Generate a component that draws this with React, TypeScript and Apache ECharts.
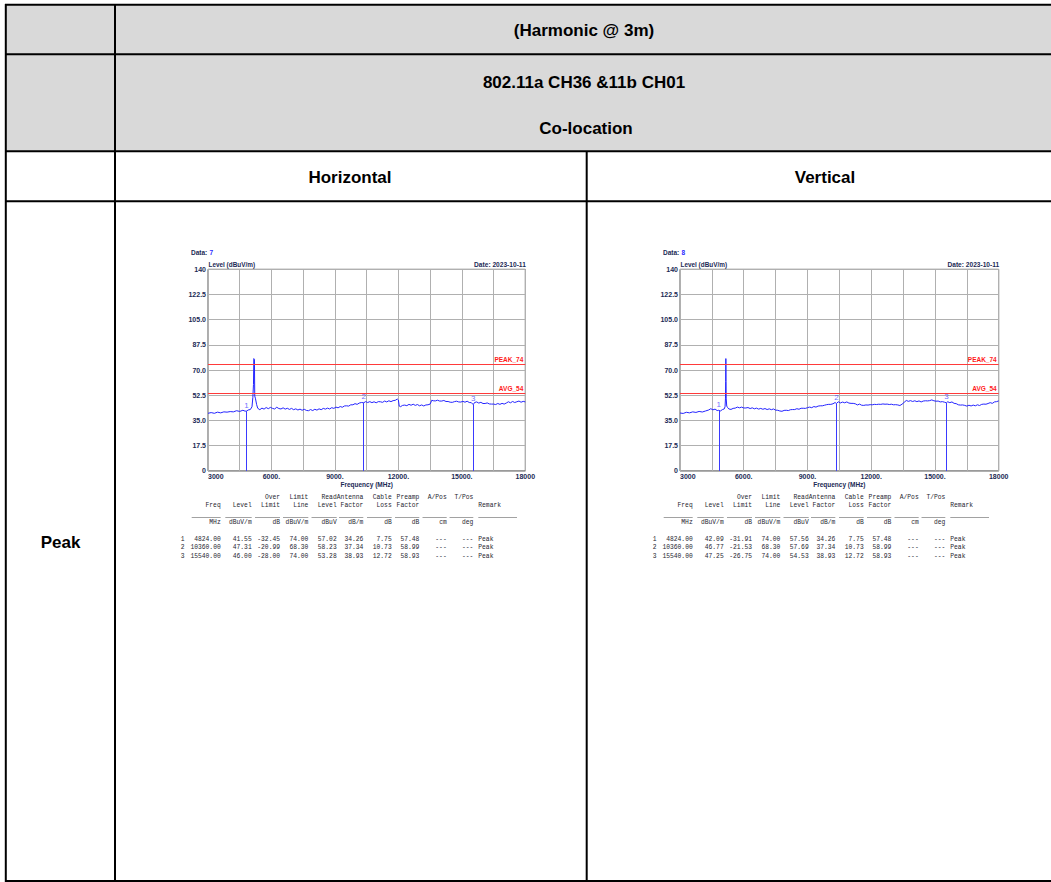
import React, { useEffect, useRef } from "react";
import * as echarts from "echarts";

// ---------- data ----------
const TITLE_ROWS = ["(Harmonic @ 3m)", "802.11a CH36 &11b CH01", "Co-location"];
const POLARIZATIONS = ["Horizontal", "Vertical"];
const ROW_LABEL = "Peak";
const DATA_IDS = ["7", "8"];
const DATE_TEXT = "Date: 2023-10-11";
const Y_AXIS_NAME = "Level (dBuV/m)";
const X_AXIS_NAME = "Frequency (MHz)";
const X_LABELS: Record<number, string> = {
  3000: "3000",
  6000: "6000.",
  9000: "9000.",
  12000: "12000.",
  15000: "15000.",
  18000: "18000",
};
const LIMIT_NAMES = ["PEAK_74", "AVG_54"];
const LIMIT_VALUES = [74, 54];
const MARKER_FREQ = [4824, 10360, 15540];
const H_MARKER_LEVEL = [41.55, 47.31, 46.0];
const V_MARKER_LEVEL = [42.09, 46.77, 47.25];

const H_TRACE: [number, number][] = [
  [3000, 40.0], [3150, 40.5], [3300, 40.0], [3450, 40.8], [3600, 40.3], [3750, 41.0], [3900, 40.8],
  [4050, 41.2], [4200, 41.0], [4350, 41.8], [4500, 41.3], [4650, 42.1], [4750, 41.5], [4824, 41.55],
  [4900, 42.3], [5000, 42.6], [5080, 44.5], [5120, 51.0], [5150, 60.0], [5165, 78.0], [5180, 78.3],
  [5195, 77.5], [5210, 52.0], [5240, 50.5], [5300, 46.0], [5350, 43.5], [5450, 42.5], [5550, 43.6],
  [5650, 42.9], [5750, 44.0], [5850, 43.2], [5950, 44.1], [6050, 43.4], [6150, 43.0], [6250, 44.2],
  [6350, 43.3], [6450, 43.0], [6550, 43.8], [6650, 42.9], [6750, 43.5], [6850, 42.7], [6950, 43.4],
  [7050, 42.5], [7150, 43.1], [7250, 42.3], [7350, 42.9], [7450, 42.1], [7550, 42.8], [7650, 42.0],
  [7750, 41.8], [7850, 42.6], [7950, 41.9], [8050, 42.8], [8150, 42.2], [8250, 43.1], [8350, 42.5],
  [8450, 43.4], [8550, 42.9], [8650, 43.6], [8750, 43.0], [8850, 43.9], [8950, 43.4], [9050, 44.3],
  [9150, 43.8], [9250, 44.7], [9350, 44.2], [9450, 45.1], [9550, 45.2], [9650, 45.0], [9750, 45.9],
  [9850, 45.9], [9950, 46.7], [10050, 46.2], [10150, 47.1], [10250, 47.5], [10360, 47.31], [10450, 48.1],
  [10550, 47.5], [10650, 48.1], [10750, 47.4], [10850, 48.0], [10950, 47.3], [11050, 48.1], [11150, 48.0],
  [11250, 47.6], [11350, 48.5], [11450, 47.9], [11550, 48.7], [11650, 48.1], [11750, 48.8], [11850, 49.0],
  [11950, 49.9], [12000, 49.2], [12040, 45.0], [12100, 44.6], [12200, 45.5], [12300, 45.7], [12400, 45.3],
  [12500, 46.2], [12600, 45.6], [12700, 46.3], [12800, 45.5], [12900, 46.1], [13000, 45.2], [13100, 45.8],
  [13200, 45.1], [13300, 45.8], [13400, 45.9], [13500, 46.4], [13580, 49.1], [13650, 48.7], [13750, 48.6],
  [13850, 49.1], [13950, 48.5], [14050, 48.5], [14150, 48.9], [14250, 48.2], [14350, 48.2], [14450, 47.7],
  [14550, 47.6], [14650, 48.1], [14750, 48.4], [14850, 47.9], [14950, 47.8], [15050, 48.3], [15150, 47.7],
  [15250, 48.4], [15350, 47.5], [15450, 47.4], [15540, 46.0], [15600, 47.5], [15700, 47.9], [15800, 47.1],
  [15900, 47.6], [16000, 46.8], [16100, 46.8], [16200, 47.2], [16300, 46.5], [16400, 46.4], [16500, 46.4],
  [16600, 46.1], [16700, 46.8], [16800, 46.2], [16900, 46.9], [17000, 46.4], [17100, 47.1], [17200, 48.0],
  [17300, 47.3], [17400, 48.2], [17500, 47.5], [17600, 48.0], [17700, 48.5], [17800, 47.7], [17900, 48.3],
  [18000, 47.9],
];

const V_TRACE: [number, number][] = [
  [3000, 40.2], [3150, 39.9], [3300, 40.7], [3450, 40.3], [3600, 41.0], [3750, 40.6], [3900, 41.3],
  [4050, 40.9], [4200, 41.6], [4350, 42.3], [4450, 43.2], [4550, 42.4], [4650, 42.9], [4750, 41.9],
  [4824, 42.09], [4900, 41.6], [5000, 42.6], [5080, 43.0], [5120, 44.5], [5140, 50.0], [5150, 62.0],
  [5158, 78.0], [5166, 62.0], [5175, 50.0], [5200, 45.0], [5240, 44.0], [5300, 43.0], [5400, 42.7],
  [5500, 43.4], [5600, 43.6], [5700, 44.3], [5800, 43.8], [5900, 44.3], [6000, 43.7], [6100, 43.7],
  [6200, 44.0], [6300, 43.3], [6400, 43.8], [6500, 43.1], [6600, 43.6], [6700, 42.9], [6800, 43.4],
  [6900, 42.8], [7000, 43.3], [7100, 42.6], [7200, 43.1], [7300, 42.5], [7400, 43.0], [7500, 42.2],
  [7600, 42.1], [7700, 41.6], [7800, 41.4], [7900, 42.0], [8000, 42.1], [8100, 41.9], [8200, 42.5],
  [8300, 42.6], [8400, 42.6], [8500, 43.2], [8600, 42.8], [8700, 43.5], [8800, 43.5], [8900, 43.4],
  [9000, 43.9], [9100, 44.3], [9200, 43.9], [9300, 44.7], [9400, 44.3], [9500, 45.0], [9600, 45.2],
  [9700, 45.2], [9800, 45.6], [9900, 46.0], [10000, 46.2], [10100, 46.2], [10200, 46.6], [10300, 47.5],
  [10360, 46.77], [10450, 48.0], [10550, 47.2], [10650, 47.8], [10750, 47.3], [10850, 47.9], [10950, 47.1],
  [11050, 46.9], [11150, 46.9], [11250, 46.6], [11350, 45.8], [11450, 46.4], [11550, 45.6], [11650, 45.5],
  [11750, 45.8], [11850, 45.7], [11950, 46.0], [12050, 45.9], [12150, 46.2], [12250, 46.1], [12350, 46.3],
  [12450, 46.2], [12550, 46.5], [12650, 46.3], [12750, 46.4], [12850, 46.1], [12950, 46.3], [13050, 45.9],
  [13150, 46.0], [13250, 45.8], [13350, 45.4], [13450, 46.3], [13550, 47.6], [13650, 48.9], [13750, 48.3],
  [13850, 48.8], [13950, 48.2], [14050, 48.7], [14150, 48.1], [14250, 48.6], [14350, 47.9], [14450, 48.5],
  [14550, 48.7], [14650, 48.6], [14750, 48.8], [14850, 49.3], [14950, 48.7], [15050, 48.4], [15150, 48.5],
  [15250, 47.9], [15350, 48.1], [15450, 47.7], [15540, 47.25], [15600, 48.0], [15700, 47.4], [15800, 47.9],
  [15900, 46.9], [16000, 46.7], [16100, 45.9], [16200, 45.7], [16300, 45.8], [16400, 45.5], [16500, 45.0],
  [16600, 45.6], [16700, 45.1], [16800, 45.7], [16900, 45.2], [17000, 45.9], [17100, 45.4], [17200, 46.2],
  [17300, 46.4], [17400, 46.3], [17500, 46.8], [17600, 47.4], [17700, 46.9], [17800, 47.9], [17900, 48.1],
  [18000, 48.6],
];

const COL_HEAD1 = ["", "", "Over", "Limit", "Read", "Antenna", "Cable", "Preamp", "A/Pos", "T/Pos"];
const COL_HEAD2 = ["Freq", "Level", "Limit", "Line", "Level", "Factor", "Loss", "Factor", "", ""];
const COL_UNITS = ["MHz", "dBuV/m", "dB", "dBuV/m", "dBuV", "dB/m", "dB", "dB", "cm", "deg"];
const REMARK_HEAD = "Remark";

const H_TABLE_ROWS = [
  ["1", "4824.00", "41.55", "-32.45", "74.00", "57.02", "34.26", "7.75", "57.48", "---", "---", "Peak"],
  ["2", "10360.00", "47.31", "-20.99", "68.30", "58.23", "37.34", "10.73", "58.99", "---", "---", "Peak"],
  ["3", "15540.00", "46.00", "-28.00", "74.00", "53.28", "38.93", "12.72", "58.93", "---", "---", "Peak"],
];
const V_TABLE_ROWS = [
  ["1", "4824.00", "42.09", "-31.91", "74.00", "57.56", "34.26", "7.75", "57.48", "---", "---", "Peak"],
  ["2", "10360.00", "46.77", "-21.53", "68.30", "57.69", "37.34", "10.73", "58.99", "---", "---", "Peak"],
  ["3", "15540.00", "47.25", "-26.75", "74.00", "54.53", "38.93", "12.72", "58.93", "---", "---", "Peak"],
];

// ---------- layout / style ----------
const SANS = "Arial, 'Liberation Sans', Helvetica, sans-serif";
const MONO = "'Liberation Mono', 'DejaVu Sans Mono', monospace";
const AXIS_COLOR = "#1b2a55";
const TRACE_COLOR = "#2424ff";
const MARKER_COLOR = "#3a3aff";
const TABLE_TEXT = "#262630";
const GRID_TOP = 269.3;
const GRID_H = 201.6;
const COL_RIGHT = [12.7, 43.7, 72, 100.3, 128.7, 155.3, 183.7, 211.3, 238.7, 265.3];
const COL_LEFT_UL = [-16.3, 17.3, 47, 75, 103.5, 131, 159, 187, 214.5, 241.5];
const REMARK_X = 270.3;
const IDX_X = -27.3;

const PANELS = [
  { left: 208, width: 317.3, id: DATA_IDS[0], trace: H_TRACE, markers: H_MARKER_LEVEL, rows: H_TABLE_ROWS },
  { left: 680, width: 318.7, id: DATA_IDS[1], trace: V_TRACE, markers: V_MARKER_LEVEL, rows: V_TABLE_ROWS },
];

function txt(text: string, x: number, y: number, o: any = {}) {
  const align = o.align || "left";
  return {
    type: "text",
    silent: true,
    style: {
      text,
      x,
      y,
      fill: o.fill || "#000",
      fontSize: o.size || 17,
      fontWeight: o.weight || "normal",
      fontFamily: o.family || SANS,
      align,
      textAlign: align,
      verticalAlign: "middle",
      textVerticalAlign: "middle",
    },
  };
}

function line(x1: number, y1: number, x2: number, y2: number, w = 2, color = "#000") {
  return { type: "line", silent: true, shape: { x1, y1, x2, y2 }, style: { stroke: color, lineWidth: w } };
}

function buildGraphics() {
  const g: any[] = [];
  const R = 1062;
  g.push({ type: "rect", silent: true, shape: { x: 5, y: 5, width: R - 5, height: 146 }, style: { fill: "#d9d9d9" } });
  g.push(line(5, 4.8, R, 4.8));
  g.push(line(5.8, 4, 5.8, 882));
  g.push(line(115, 4, 115, 882));
  g.push(line(5, 54.3, R, 54.3));
  g.push(line(5, 151.3, R, 151.3));
  g.push(line(5, 201.2, R, 201.2));
  g.push(line(5, 881, R, 881));
  g.push(line(586.7, 151.3, 586.7, 882));

  const bold = { weight: "bold", align: "center" };
  g.push(txt(TITLE_ROWS[0], 584, 30, bold));
  g.push(txt(TITLE_ROWS[1], 584, 82, bold));
  g.push(txt(TITLE_ROWS[2], 586, 128.5, bold));
  g.push(txt(POLARIZATIONS[0], 350, 177, bold));
  g.push(txt(POLARIZATIONS[1], 825, 177, bold));
  g.push(txt(ROW_LABEL, 60.5, 542, bold));

  PANELS.forEach((p) => {
    const ox = p.left;
    const right = p.left + p.width;
    g.push(txt("Data:", ox - 17, 252.7, { size: 6.5, weight: "bold", fill: AXIS_COLOR }));
    g.push(txt(p.id, ox + 1.5, 252.7, { size: 6.5, weight: "bold", fill: "#2a2aff" }));
    g.push(txt(Y_AXIS_NAME, ox + 0.5, 264.2, { size: 6.4, weight: "bold", fill: AXIS_COLOR }));
    g.push(txt(DATE_TEXT, right + 0.5, 264.2, { size: 6.6, weight: "bold", fill: AXIS_COLOR, align: "right" }));
    g.push(txt(X_AXIS_NAME, ox + p.width / 2, 484.3, { size: 6.5, weight: "bold", fill: AXIS_COLOR, align: "center" }));

    const mono = { size: 6.3, family: MONO, fill: TABLE_TEXT, align: "right" };
    COL_RIGHT.forEach((cx, i) => {
      if (COL_HEAD1[i]) g.push(txt(COL_HEAD1[i], ox + cx, 497.3, mono));
      if (COL_HEAD2[i]) g.push(txt(COL_HEAD2[i], ox + cx, 505.8, mono));
      g.push(txt(COL_UNITS[i], ox + cx, 522.3, mono));
      g.push(line(ox + COL_LEFT_UL[i], 517.5, ox + cx, 517.5, 0.8, "#8a8a8a"));
    });
    g.push(txt(REMARK_HEAD, ox + REMARK_X, 505.8, { ...mono, align: "left" }));
    g.push(line(ox + REMARK_X, 517.5, ox + 309, 517.5, 0.8, "#8a8a8a"));

    p.rows.forEach((row, r) => {
      const y = 539.3 + r * 8.4;
      g.push(txt(row[0], ox + IDX_X, y, { ...mono, align: "left" }));
      COL_RIGHT.forEach((cx, i) => {
        g.push(txt(row[i + 1], ox + cx, y, mono));
      });
      g.push(txt(row[11], ox + REMARK_X, y, { ...mono, align: "left" }));
    });
  });
  return g;
}

function buildOption() {
  const grids: any[] = [];
  const xAxes: any[] = [];
  const yAxes: any[] = [];
  const series: any[] = [];
  PANELS.forEach((p, k) => {
    grids.push({
      left: p.left,
      top: GRID_TOP,
      width: p.width,
      height: GRID_H,
      show: true,
      borderColor: "#5a5a5a",
      borderWidth: 1,
      backgroundColor: "transparent",
      containLabel: false,
    });
    xAxes.push({
      type: "value",
      gridIndex: k,
      min: 3000,
      max: 18000,
      interval: 1500,
      axisLine: { show: false },
      axisTick: { show: false },
      splitLine: { show: true, lineStyle: { color: "#b0b0b0", width: 1 } },
      axisLabel: {
        formatter: (v: number) => X_LABELS[v] ?? "",
        fontSize: 7,
        fontWeight: "bold",
        fontFamily: SANS,
        color: AXIS_COLOR,
        margin: 2,
        alignMinLabel: "left",
        showMinLabel: true,
        showMaxLabel: true,
      },
    });
    yAxes.push({
      type: "value",
      gridIndex: k,
      min: 0,
      max: 140,
      interval: 17.5,
      axisLine: { show: false },
      axisTick: { show: false },
      splitLine: { show: true, lineStyle: { color: "#b0b0b0", width: 1 } },
      axisLabel: {
        formatter: (v: number) => (v === 0 ? "0" : v === 140 ? "140" : v.toFixed(1)),
        fontSize: 7,
        fontWeight: "bold",
        fontFamily: SANS,
        color: AXIS_COLOR,
        margin: 2,
      },
    });
    const limitItems = LIMIT_NAMES.map((name, i) => ({
      yAxis: LIMIT_VALUES[i],
      name,
      lineStyle: { color: "#ff3a3a", width: 1, type: "solid" },
      label: {
        show: true,
        formatter: name,
        position: "insideEndTop",
        distance: [2, 1.5],
        color: "#ff1a1a",
        fontSize: 6.5,
        fontWeight: "bold",
        fontFamily: SANS,
      },
    }));
    const markerItems = MARKER_FREQ.map((f, i) => [
      {
        coord: [f, 0],
        lineStyle: { color: MARKER_COLOR, width: 1, type: "solid" },
        label: { show: false },
      },
      { coord: [f, p.markers[i]], lineStyle: { color: MARKER_COLOR, width: 1, type: "solid" } },
    ]);
    series.push({
      type: "line",
      xAxisIndex: k,
      yAxisIndex: k,
      data: p.trace,
      showSymbol: false,
      symbol: "none",
      color: TRACE_COLOR,
      lineStyle: { color: TRACE_COLOR, width: 1 },
      z: 3,
      markLine: {
        silent: true,
        symbol: ["none", "none"],
        animation: false,
        lineStyle: { color: MARKER_COLOR, width: 1, type: "solid" },
        label: { show: false },
        data: [...limitItems, ...markerItems],
      },
    });
    series.push({
      type: "scatter",
      xAxisIndex: k,
      yAxisIndex: k,
      data: MARKER_FREQ.map((f, i) => [f, p.markers[i]]),
      symbolSize: 0,
      itemStyle: { color: "transparent" },
      label: {
        show: true,
        position: "top",
        distance: 2,
        formatter: (pr: any) => String(pr.dataIndex + 1),
        color: "#4848ff",
        fontSize: 8,
        fontFamily: SANS,
      },
      z: 4,
    });
  });
  return {
    animation: false,
    backgroundColor: "#ffffff",
    grid: grids,
    xAxis: xAxes,
    yAxis: yAxes,
    series,
    graphic: { elements: buildGraphics() },
  };
}

export default function App() {
  const ref = useRef<HTMLDivElement>(null);
  useEffect(() => {
    if (!ref.current) return;
    const chart = echarts.init(ref.current, null, { renderer: "svg" });
    chart.setOption(buildOption() as any);
    return () => chart.dispose();
  }, []);
  return (
    <div
      ref={ref}
      style={{ position: "fixed", left: 0, top: 0, width: 1051, height: 882, background: "#fff" }}
    />
  );
}
